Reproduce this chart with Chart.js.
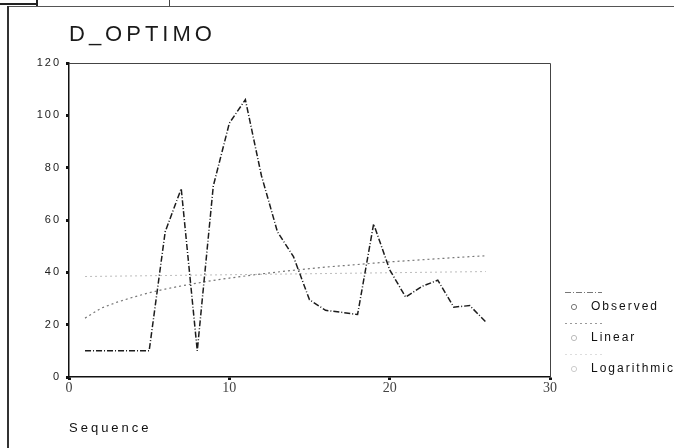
<!DOCTYPE html>
<html><head><meta charset="utf-8">
<script src="https://cdn.jsdelivr.net/npm/chart.js@4.4.1/dist/chart.umd.min.js"></script>
<style>
html,body{margin:0;padding:0;background:#fff;}
#wrap{position:relative;width:674px;height:448px;overflow:hidden;background:#fff;}
canvas{position:absolute;left:0;top:0;}
.ln{position:absolute;}
</style></head><body>
<div id="wrap">
<canvas id="c" width="674" height="448"></canvas>
<div class="ln" style="left:0;top:3px;width:37px;height:2px;background:#222"></div>
<div class="ln" style="left:36px;top:0;width:2px;height:6px;background:#222"></div>
<div class="ln" style="left:169px;top:0;width:1px;height:7px;background:#444"></div>
<div class="ln" style="left:8px;top:6px;width:666px;height:1px;background:#555"></div>
<div class="ln" style="left:7px;top:6px;width:2px;height:442px;background:#333"></div>
</div>
<script>
// ---- data ----
const chartTitle = 'D_OPTIMO';
const xAxisTitle = 'Sequence';
const seriesNames = ['Observed', 'Linear', 'Logarithmic'];
const sequence = [1,2,3,4,5,6,7,8,9,10,11,12,13,14,15,16,17,18,19,20,21,22,23,24,25,26];
const observed = [10,10,10,10,10,55.5,72,10,73,97,106,77,55.5,46,29.5,25.5,24.7,23.9,58.5,41,30.5,34.6,37,26.7,27.3,21];
const linearX = [1, 26];
const linearY = [38.4, 40.3];
const logarithmic = [22.5,26.3,28.6,30.5,32.2,33.6,34.8,35.9,36.9,37.8,38.6,39.4,40.1,40.8,41.4,42.0,42.5,43.0,43.5,44.0,44.4,44.8,45.2,45.6,46.0,46.3];
const xTickMin = 0, xTickMax = 30, xTickStep = 10;
const yTickMin = 0, yTickMax = 120, yTickStep = 20;

function pts(xs, ys){ return xs.map((x,i)=>({x:x, y:ys[i]})); }

function makeMarker(color){
  const c = document.createElement('canvas');
  c.width = 16; c.height = 10;
  const g = c.getContext('2d');
  g.strokeStyle = color; g.lineWidth = 1;
  g.beginPath(); g.arc(5, 5, 2.6, 0, Math.PI*2); g.stroke();
  return c;
}

function wrapSpacing(obj, method, spacing){
  if (!obj || obj['_ls_'+method]) return;
  const orig = obj[method];
  obj[method] = function(){
    const ctx = this.ctx || (this.chart && this.chart.ctx);
    const prev = ctx.letterSpacing;
    ctx.letterSpacing = spacing;
    const r = orig.apply(this, arguments);
    ctx.letterSpacing = prev;
    return r;
  };
  obj['_ls_'+method] = true;
}

const framePlugin = {
  id: 'framePlugin',
  beforeLayout(chart){
    const lg = chart.legend;
    if (lg && !lg._fixedFit){
      const of = lg.fit;
      lg.fit = function(){ of.apply(this, arguments); this.width = 124; };
      lg._fixedFit = true;
    }
  },
  afterLayout(chart){
    const lg = chart.legend;
    if (lg){ const h = lg.bottom - lg.top; lg.bottom = 394; lg.top = 394 - h; }
  },
  beforeDraw(chart){
    const ctx = chart.ctx;
    ctx.save(); ctx.fillStyle = '#fff'; ctx.fillRect(0,0,chart.width,chart.height); ctx.restore();
    wrapSpacing(chart.titleBlock, 'draw', '4px');
    wrapSpacing(chart.legend, 'draw', '2px');
    wrapSpacing(chart.scales.y, 'drawLabels', '2px');
    wrapSpacing(chart.scales.x, 'drawTitle', '3px');
  },
  afterDraw(chart){
    const ctx = chart.ctx, a = chart.chartArea;
    ctx.save();
    ctx.strokeStyle = '#444'; ctx.lineWidth = 1;
    ctx.beginPath();
    ctx.moveTo(a.left, a.top + 0.5); ctx.lineTo(a.right + 0.5, a.top + 0.5); ctx.lineTo(a.right + 0.5, a.bottom);
    ctx.stroke();
    // legend line samples above each entry
    const lg = chart.legend;
    if (lg && lg.legendHitBoxes){
      lg.legendHitBoxes.forEach((hb, i) => {
        const ds = chart.data.datasets[i];
        const cy = Math.round(hb.top + hb.height/2 - 15) + 0.5;
        ctx.strokeStyle = ds.legendSampleColor;
        ctx.setLineDash(ds.borderDash || []);
        ctx.lineWidth = 1;
        ctx.beginPath(); ctx.moveTo(hb.left - 4, cy); ctx.lineTo(hb.left + 33, cy); ctx.stroke();
      });
    }
    ctx.restore();
  }
};

new Chart(document.getElementById('c'), {
  type: 'line',
  data: {
    datasets: [
      { label: seriesNames[0], data: pts(sequence, observed), borderColor: '#1c1c1c', borderWidth: 1.5,
        borderDash: [6,2,1,2], pointRadius: 0, tension: 0, pointStyle: makeMarker('#777'), legendSampleColor: '#777' },
      { label: seriesNames[1], data: pts(linearX, linearY), borderColor: '#bdbdbd', borderWidth: 1,
        borderDash: [2,3], pointRadius: 0, tension: 0, pointStyle: makeMarker('#bbb'), legendSampleColor: '#999' },
      { label: seriesNames[2], data: pts(sequence, logarithmic), borderColor: '#777', borderWidth: 1.2,
        borderDash: [2,3], pointRadius: 0, tension: 0, pointStyle: makeMarker('#ccc'), legendSampleColor: '#ddd' }
    ]
  },
  options: {
    responsive: false,
    animation: false,
    devicePixelRatio: 1,
    layout: { padding: { left: 0, right: 0, top: 0, bottom: 0 } },
    plugins: {
      title: {
        display: true, text: chartTitle, align: 'start', fullSize: false,
        color: '#1a1a1a', font: { family: 'Liberation Sans, Arial', size: 22, weight: 'normal', lineHeight: 1.2 },
        padding: { top: 21.8, bottom: 14.8 }
      },
      legend: {
        display: true, position: 'right', align: 'end',
        labels: {
          usePointStyle: true, pointStyleWidth: 16, boxHeight: 10, padding: 19,
          color: '#111', font: { family: 'Liberation Sans, Arial', size: 12 }
        }
      },
      tooltip: { enabled: false }
    },
    scales: {
      x: {
        type: 'linear', position: 'bottom', min: xTickMin, max: xTickMax,
        ticks: { stepSize: xTickStep, color: '#444', padding: 0, maxRotation: 0,
          font: { family: 'Liberation Serif, Times New Roman', size: 14 } },
        grid: { drawOnChartArea: false, drawTicks: true, tickLength: 3, tickWidth: 3, color: '#111' },
        border: { display: true, color: '#111', width: 1.5 },
        title: { display: true, text: xAxisTitle, align: 'start', color: '#111',
          font: { family: 'Liberation Sans, Arial', size: 13 }, padding: { top: 0, bottom: 12.2 } },
        afterFit(scale){ scale.height = 71; }
      },
      y: {
        type: 'linear', position: 'left', min: yTickMin, max: yTickMax,
        ticks: { stepSize: yTickStep, color: '#222', padding: 5,
          font: { family: 'Liberation Sans, Arial', size: 11 } },
        grid: { drawOnChartArea: false, drawTicks: true, tickLength: 3, tickWidth: 3, color: '#111' },
        border: { display: true, color: '#111', width: 1.5 },
        afterFit(scale){ scale.width = 69; }
      }
    }
  },
  plugins: [framePlugin]
});
</script>
</body></html>
